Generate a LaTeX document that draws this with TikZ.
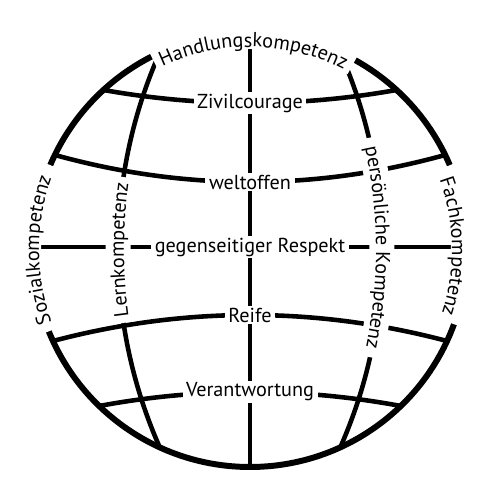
\documentclass[tikz,border=0pt]{standalone}
\usepackage{fontspec}
\setmainfont{PT Sans}
\usetikzlibrary{decorations.text}
\newcommand\labelfont{\fontsize{11.5}{13}\selectfont}
\tikzset{
  rim/.style={line width=3.4pt},
  grid line/.style={line width=2.6pt},
  gap/.style={white, line width=#1},
  gap/.default=0.5cm,
  band label/.style={fill=white, inner xsep=2pt, inner ysep=1pt, font=\labelfont},
}

\begin{document}
\begin{tikzpicture}

  \useasboundingbox (0,0) rectangle (10,10);

  % Globe outline, axis and equator
  \draw[rim] (5,5) circle (4.34);
  \draw[grid line] (5,0.66) -- (5,9.34);
  \draw[grid line] (0.66,5.06) -- (9.34,5.06);

  % Meridians (arcs of large circles)
  \draw[grid line] (12.11,5) ++(156:9.75) arc[start angle=156, end angle=204, radius=9.75];
  \draw[grid line] (-2.11,5) ++(24:9.75) arc[start angle=24, end angle=-24, radius=9.75];

  % Parallels, ends sitting on the outline
  \foreach \ya/\yc in {8.2/7.853, 6.9/6.18, 3.18/3.873, 1.88/2.253}{
    \pgfmathsetmacro{\dx}{sqrt(4.34^2-(\ya-5)^2)}
    \draw[grid line] (5-\dx,\ya) .. controls (5-\dx/3,\yc) and (5+\dx/3,\yc) .. (5+\dx,\ya);
  }

  % White gaps under the curved labels
  \draw[gap] (5,5) ++(117:4.27) arc[start angle=117, end angle=61, radius=4.27];
  \draw[gap] (5,5) ++(202:4.43) arc[start angle=202, end angle=157, radius=4.43];
  \draw[gap] (5,5) ++(23:4.27) arc[start angle=23, end angle=-20, radius=4.27];
  \draw[gap] (12.11,5) ++(188.6:9.75) arc[start angle=188.6, end angle=171.4, radius=9.75];
  \draw[gap] (-2.11,5) ++(13.3:9.75) arc[start angle=13.3, end angle=-12.7, radius=9.75];

  % Curved labels
  \path[decorate, decoration={text along path, text align=center,
      text={|\labelfont|Handlungskompetenz}}]
    (5,5) ++(130:4.06) arc[start angle=130, end angle=48, radius=4.06];
  \path[decorate, decoration={text along path, text align=center,
      text={|\labelfont|Sozialkompetenz}}]
    (5,5) ++(225:4.22) arc[start angle=225, end angle=135, radius=4.22];
  \path[decorate, decoration={text along path, text align=center,
      text={|\labelfont|Fachkompetenz}}]
    (5,5) ++(46:4.04) arc[start angle=46, end angle=-44, radius=4.04];
  \path[decorate, decoration={text along path, text align=center, raise=-0.12cm,
      text={|\labelfont|Lernkompetenz}}]
    (12.11,5) ++(200:9.75) arc[start angle=200, end angle=160, radius=9.75];
  \path[decorate, decoration={text along path, text align=center, raise=-0.12cm,
      text={|\labelfont|persönliche Kompetenz}}]
    (-2.11,5) ++(20.3:9.75) arc[start angle=20.3, end angle=-19.7, radius=9.75];

  % Straight labels on the parallels
  \node[band label] (zivil) at (5,7.94) {Zivilcourage};
  \node[band label] (welt) at (5,6.36) {weltoffen};
  \node[band label] (respekt) at (5,5.06) {gegenseitiger Respekt};
  \node[band label] (reife) at (5,3.7) {Reife};
  \node[band label] (verantw) at (5,2.16) {Verantwortung};

\end{tikzpicture}
\end{document}
